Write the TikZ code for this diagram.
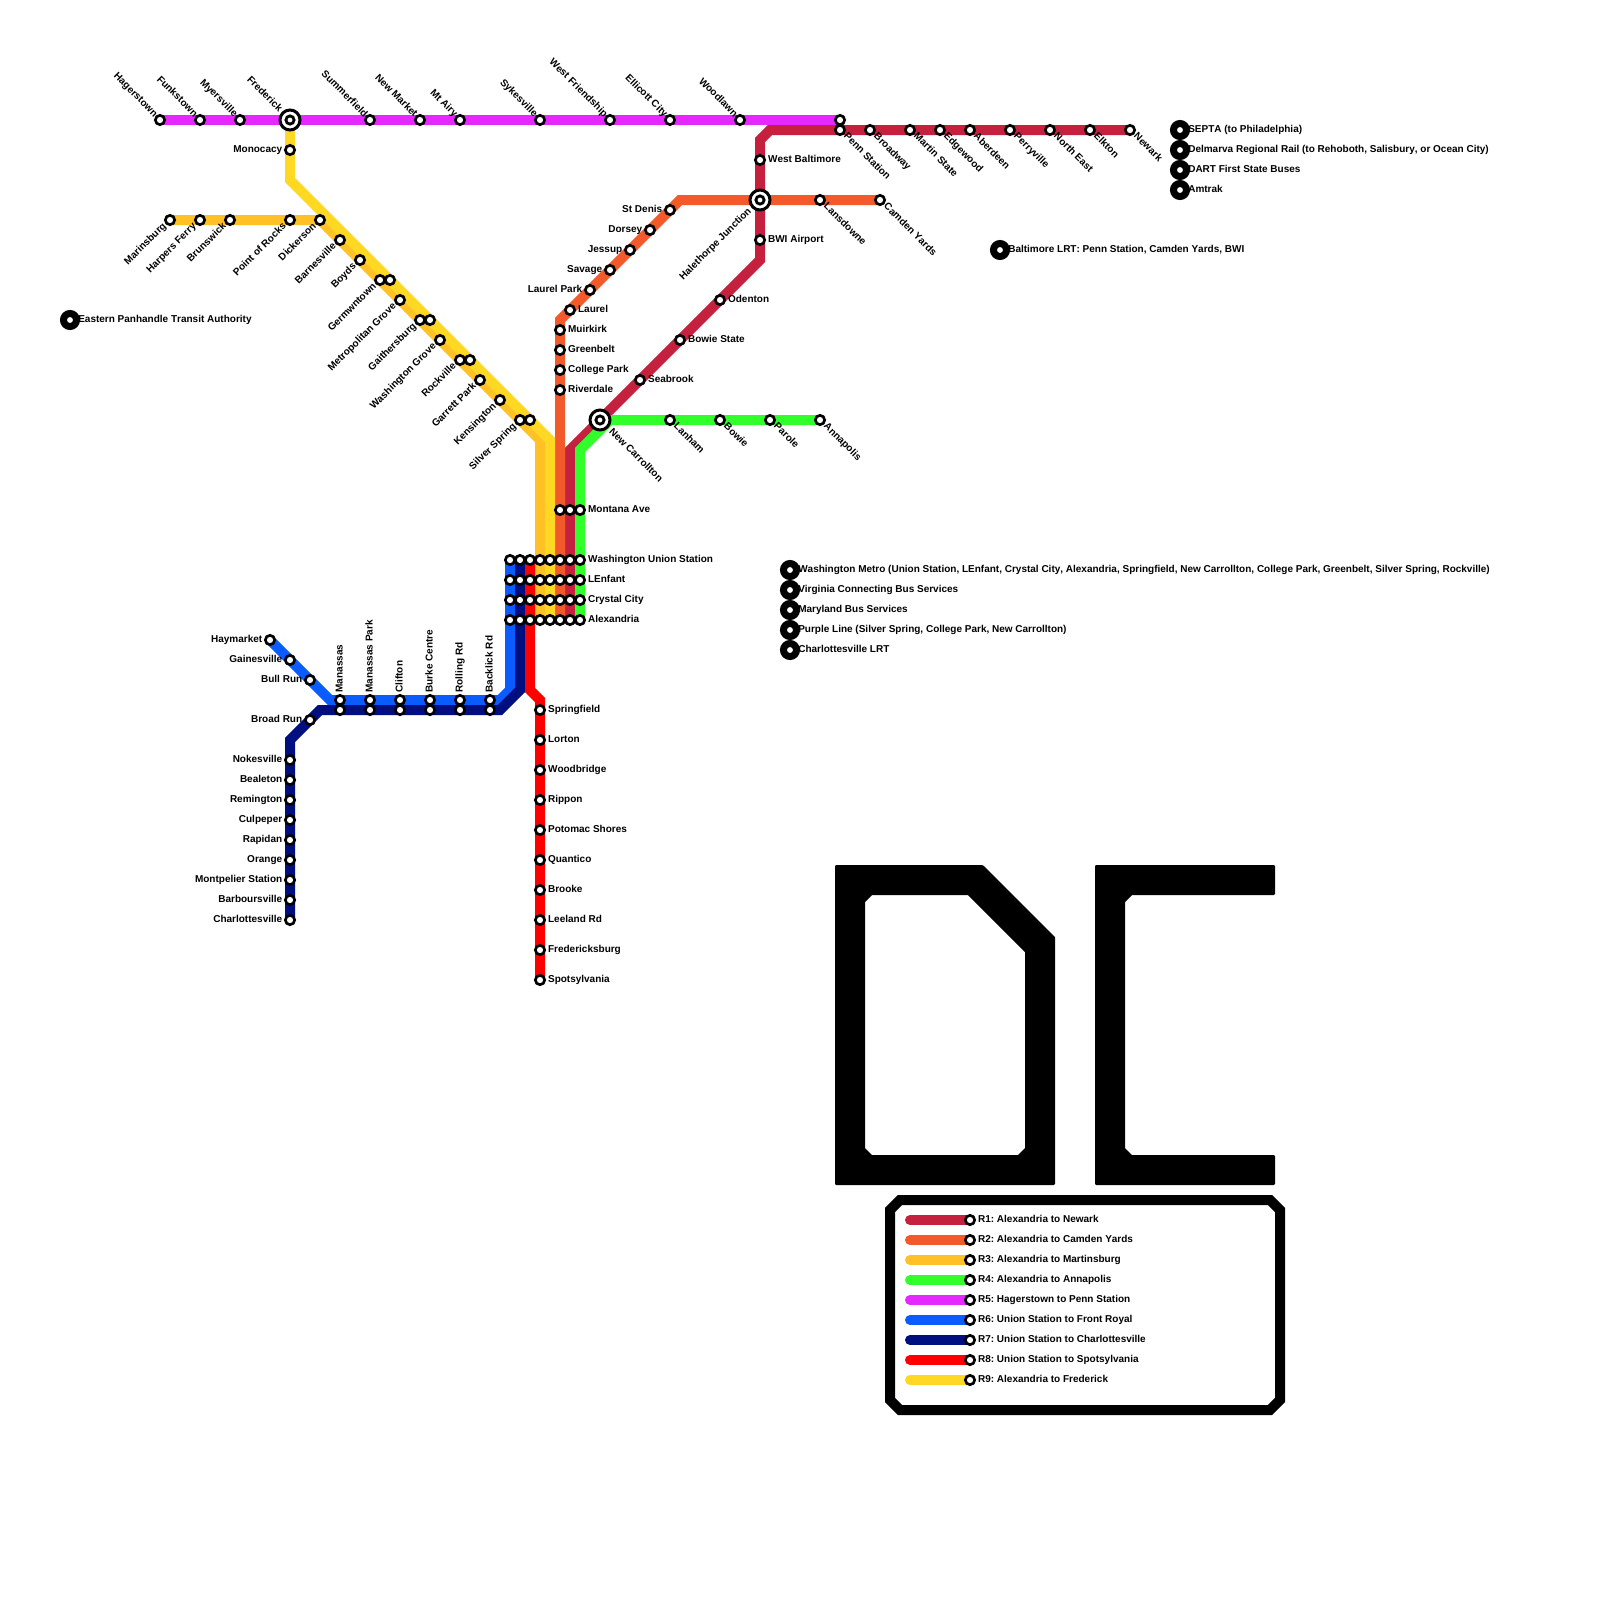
\documentclass[tikz,border=0pt]{standalone}
\usepackage{fontspec}
\setmainfont[Kerning=Off]{Liberation Sans}
\usetikzlibrary{positioning}
\definecolor{rone}{RGB}{197,33,63}
\definecolor{rtwo}{RGB}{243,90,43}
\definecolor{rthree}{RGB}{255,193,37}
\definecolor{rfour}{RGB}{48,255,42}
\definecolor{rfive}{RGB}{228,40,255}
\definecolor{rsix}{RGB}{10,92,255}
\definecolor{rseven}{RGB}{0,15,128}
\definecolor{reight}{RGB}{255,0,0}
\definecolor{rnine}{RGB}{255,216,35}
\pgfdeclarelayer{lines}
\pgfsetlayers{lines,main}
\tikzset{
  every picture/.style={x=0.25cm, y=-0.25cm},
  route/.style={line width=2.5mm},
  stop/.style={circle, draw=black, fill=white, line width=0.67mm, inner sep=0pt, minimum size=2.33mm},
  xstop/.style={circle, draw=black, fill=white, line width=0.7mm, inner sep=0pt, minimum size=2.05mm},
  ring/.style={circle, draw=black, fill=white, line width=0.75mm, inner sep=0pt, minimum size=5mm},
  blob/.style={circle, draw=black, fill=white, line width=1.75mm, inner sep=0pt, minimum size=3.25mm},
  lbl/.style={inner sep=0pt, font=\fontsize{7.11}{8.5}\selectfont\bfseries\frenchspacing, text=black},
  labr/.style={lbl, anchor=base west, shift={(0.78,0.25)}},
  labl/.style={lbl, anchor=base east, shift={(-0.75,0.25)}},
  labup/.style={lbl, anchor=base east, rotate=-45, shift={(-0.6,0.25)}},
  labdl/.style={lbl, anchor=base east, rotate=45, shift={(-0.7,0.25)}},
  labdr/.style={lbl, anchor=base west, rotate=-45, shift={(0.7,0.25)}},
  labv/.style={lbl, anchor=base west, rotate=90, shift={(0.72,0.25)}},
  xlabup/.style={lbl, anchor=base east, rotate=-45, shift={(-1.35,0.25)}},
  xlabdl/.style={lbl, anchor=base east, rotate=45, shift={(-1.4,0.25)}},
  xlabdr/.style={lbl, anchor=base west, rotate=-45, shift={(1.45,0.25)}},
  frameline/.style={draw=black, line width=2.5mm},
  letter/.style={fill=black, even odd rule},
}
% station: label style, name, position, text
\newcommand{\stn}[4]{%
  \node[stop] (#2) at (#3) {};
  \node[#1] (#2-l) at (#2.center) {#4};}
% interchange: the same with a ring round it
\newcommand{\xch}[4]{%
  \node[ring] (#2-r) at (#3) {};
  \node[xstop] (#2) at (#3) {};
  \node[#1] (#2-l) at (#2.center) {#4};}
% other operators
\newcommand{\opr}[3]{%
  \node[blob] (#1) at (#2) {};
  \node[lbl, anchor=base west, shift={(0.8,0.25)}] (#1-l) at (#1.center) {#3};}

\begin{document}
\begin{tikzpicture}
  \path[use as bounding box] (0,0) rectangle (160,160);
  \begin{pgfonlayer}{lines}
    \fill[white] (0,0) rectangle (160,160);
  \end{pgfonlayer}

  % R5
  \foreach \nm/\xx/\txt in {hagerstown/16/Hagerstown, funkstown/20/Funkstown, myersville/24/Myersville,
      summerfield/37/Summerfield, newmarket/42/New Market, mtairy/46/Mt Airy, sykesville/54/Sykesville,
      westfriendship/61/West Friendship, ellicott/67/Ellicott City, woodlawn/74/Woodlawn}
    {\stn{labup}{\nm}{\xx,12}{\txt}}
  \xch{xlabup}{frederick}{29,12}{Frederick}
  \node[stop] (pennfive) at (84,12) {};

  % R1
  \foreach \nm/\xx/\txt in {penn/84/Penn Station, broadway/87/Broadway, martin/91/Martin State,
      edgewood/94/Edgewood, aberdeen/97/Aberdeen, perryville/101/Perryville,
      northeast/105/North East, elkton/109/Elkton, newark/113/Newark}
    {\stn{labdr}{\nm}{\xx,13}{\txt}}
  \stn{labr}{westbalt}{76,16}{West Baltimore}
  \stn{labr}{bwi}{76,24}{BWI Airport}
  \stn{labr}{odenton}{72,30}{Odenton}
  \stn{labr}{bowiestate}{68,34}{Bowie State}
  \stn{labr}{seabrook}{64,38}{Seabrook}
  \xch{xlabdl}{halethorpe}{76,20}{Halethorpe Junction}
  \xch{xlabdr}{newcarrollton}{60,42}{New Carrollton}

  % R2
  \stn{labdr}{lansdowne}{82,20}{Lansdowne}
  \stn{labdr}{camden}{88,20}{Camden Yards}
  \foreach \nm/\xx/\yy/\txt in {stdenis/67/21/St Denis, dorsey/65/23/Dorsey, jessup/63/25/Jessup,
      savage/61/27/Savage, laurelpark/59/29/Laurel Park}
    {\stn{labl}{\nm}{\xx,\yy}{\txt}}
  \stn{labr}{laurel}{57,31}{Laurel}
  \foreach \nm/\yy/\txt in {muirkirk/33/Muirkirk, greenbelt/35/Greenbelt, collegepark/37/College Park, riverdale/39/Riverdale}
    {\stn{labr}{\nm}{56,\yy}{\txt}}

  % R4
  \foreach \nm/\xx/\txt in {lanham/67/Lanham, bowie/72/Bowie, parole/77/Parole, annapolis/82/Annapolis}
    {\stn{labdr}{\nm}{\xx,42}{\txt}}

  % R3 and R9
  \stn{labl}{monocacy}{29,15}{Monocacy}
  \foreach \nm/\xx/\yy/\txt in {marinsburg/17/22/Marinsburg, harpers/20/22/Harpers Ferry, brunswick/23/22/Brunswick,
      pointofrocks/29/22/Point of Rocks, dickerson/32/22/Dickerson, barnesville/34/24/Barnesville, boyds/36/26/Boyds,
      germantown/38/28/Germwntown, metgrove/40/30/Metropolitan Grove, gaithersburg/42/32/Gaithersburg,
      washgrove/44/34/Washington Grove, rockville/46/36/Rockville, garrett/48/38/Garrett Park,
      kensington/50/40/Kensington, silverspring/52/42/Silver Spring}
    {\stn{labdl}{\nm}{\xx,\yy}{\txt}}
  \foreach \nm/\xx/\yy in {germantownb/39/28, gaithersburgb/43/32, rockvilleb/47/36, silverspringb/53/42}
    {\node[stop] (\nm) at (\xx,\yy) {};}

  % core
  \node[stop] (montanaa) at (56,51) {};
  \node[stop] (montanab) at (57,51) {};
  \stn{labr}{montana}{58,51}{Montana Ave}
  \foreach \cc in {51,...,57}
    \foreach \rr in {56,58,60,62}
      {\node[stop] (st\cc-\rr) at (\cc,\rr) {};}
  \stn{labr}{st58-56}{58,56}{Washington Union Station}
  \stn{labr}{st58-58}{58,58}{LEnfant}
  \stn{labr}{st58-60}{58,60}{Crystal City}
  \stn{labr}{st58-62}{58,62}{Alexandria}

  % R6 and R7
  \foreach \nm/\xx/\yy/\txt in {haymarket/27/64/Haymarket, gainesville/29/66/Gainesville, bullrun/31/68/Bull Run, broadrun/31/72/Broad Run}
    {\stn{labl}{\nm}{\xx,\yy}{\txt}}
  \foreach \nm/\xx/\txt in {manassas/34/Manassas, manassaspark/37/Manassas Park, clifton/40/Clifton,
      burke/43/Burke Centre, rolling/46/Rolling Rd, backlick/49/Backlick Rd}
    {\stn{labv}{\nm}{\xx,70}{\txt}
     \node[stop] (\nm b) at (\xx,71) {};}
  \foreach \nm/\yy/\txt in {nokesville/76/Nokesville, bealeton/78/Bealeton, remington/80/Remington, culpeper/82/Culpeper,
      rapidan/84/Rapidan, orange/86/Orange, montpelier/88/Montpelier Station, barboursville/90/Barboursville,
      charlottesville/92/Charlottesville}
    {\stn{labl}{\nm}{29,\yy}{\txt}}

  % R8
  \foreach \nm/\yy/\txt in {springfield/71/Springfield, lorton/74/Lorton, woodbridge/77/Woodbridge, rippon/80/Rippon,
      potomac/83/Potomac Shores, quantico/86/Quantico, brooke/89/Brooke, leeland/92/Leeland Rd,
      fredericksburg/95/Fredericksburg, spotsylvania/98/Spotsylvania}
    {\stn{labr}{\nm}{54,\yy}{\txt}}

  % other operators
  \opr{septa}{118,13}{SEPTA (to Philadelphia)}
  \opr{delmarva}{118,15}{Delmarva Regional Rail (to Rehoboth, Salisbury, or Ocean City)}
  \opr{dart}{118,17}{DART First State Buses}
  \opr{amtrak}{118,19}{Amtrak}
  \opr{lrt}{100,25}{Baltimore LRT: Penn Station, Camden Yards, BWI}
  \opr{panhandle}{7,32}{Eastern Panhandle Transit Authority}
  \opr{metro}{79,57}{Washington Metro (Union Station, LEnfant, Crystal City, Alexandria, Springfield, New Carrollton, College Park, Greenbelt, Silver Spring, Rockville)}
  \opr{vcbs}{79,59}{Virginia Connecting Bus Services}
  \opr{mbs}{79,61}{Maryland Bus Services}
  \opr{purple}{79,63}{Purple Line (Silver Spring, College Park, New Carrollton)}
  \opr{clrt}{79,65}{Charlottesville LRT}

  % bends
  \coordinate (ra) at (57,45);
  \coordinate (rb) at (76,26);
  \coordinate (rc) at (76,14);
  \coordinate (rd) at (77,13);
  \coordinate (oa) at (56,32);
  \coordinate (ob) at (68,20);
  \coordinate (aa) at (54,44);
  \coordinate (ga) at (58,45);
  \coordinate (gb) at (61,42);
  \coordinate (ba) at (51,69);
  \coordinate (bb) at (50,70);
  \coordinate (bc) at (33,70);
  \coordinate (na) at (52,69);
  \coordinate (nb) at (50,71);
  \coordinate (nc) at (32,71);
  \coordinate (nd) at (29,74);
  \coordinate (ea) at (53,69);
  \coordinate (eb) at (54,70);
  \coordinate (ya) at (55,44);
  \coordinate (yb) at (29,18);

  % legend
  \foreach \cc/\yy/\txt [count=\ii] in {rone/122/R1: Alexandria to Newark, rtwo/124/R2: Alexandria to Camden Yards,
      rthree/126/R3: Alexandria to Martinsburg, rfour/128/R4: Alexandria to Annapolis,
      rfive/130/R5: Hagerstown to Penn Station, rsix/132/R6: Union Station to Front Royal,
      rseven/134/R7: Union Station to Charlottesville, reight/136/R8: Union Station to Spotsylvania,
      rnine/138/R9: Alexandria to Frederick}
    {\coordinate (key\ii) at (91,\yy);
     \stn{labr}{keystop\ii}{97,\yy}{\txt}
     \begin{pgfonlayer}{lines}
       \draw[route, \cc, line cap=round] (key\ii) -- (keystop\ii.center);
     \end{pgfonlayer}}

  \begin{pgfonlayer}{lines}
    \draw[route, rone] (st57-62.center) -- (ra) -- (newcarrollton.center) -- (rb) -- (rc) -- (rd) -- (newark.center);
    \draw[route, rtwo] (st56-62.center) -- (oa) -- (ob) -- (camden.center);
    \draw[route, rthree] (st54-62.center) -- (aa) -- (dickerson.center) -- (marinsburg.center);
    \draw[route, rfour] (st58-62.center) -- (ga) -- (gb) -- (annapolis.center);
    \draw[route, rfive] (hagerstown.center) -- (pennfive.center);
    \draw[route, rsix] (st51-56.center) -- (ba) -- (bb) -- (bc) -- (haymarket.center);
    \draw[route, rseven] (st52-56.center) -- (na) -- (nb) -- (nc) -- (nd) -- (charlottesville.center);
    \draw[route, reight] (st53-56.center) -- (ea) -- (eb) -- (spotsylvania.center);
    \draw[route, rnine] (st55-62.center) -- (ya) -- (yb) -- (frederick.center);
  \end{pgfonlayer}

  % big DC and the legend frame
  \fill[letter]
    [rounded corners=0.3mm] (83.5,86.5) -- (98.3,86.5) [sharp corners] -- (105.5,93.7) [rounded corners=0.3mm] -- (105.5,118.5) -- (83.5,118.5) -- cycle
    [sharp corners] (86.5,90.2) -- (87.2,89.5) -- (96.8,89.5) -- (102.5,95.2) -- (102.5,114.8) -- (101.8,115.5) -- (87.2,115.5) -- (86.5,114.8) -- cycle;
  \fill[letter]
    [rounded corners=0.3mm] (109.5,86.5) -- (127.5,86.5) -- (127.5,89.5) [sharp corners] -- (113.2,89.5) -- (112.5,90.2) -- (112.5,114.8) -- (113.2,115.5)
    [rounded corners=0.3mm] -- (127.5,115.5) -- (127.5,118.5) -- (109.5,118.5) -- cycle;
  \draw[frameline] (90,120) -- (127,120) -- (128,121) -- (128,140) -- (127,141) -- (90,141) -- (89,140) -- (89,121) -- cycle;
\end{tikzpicture}
\end{document}
